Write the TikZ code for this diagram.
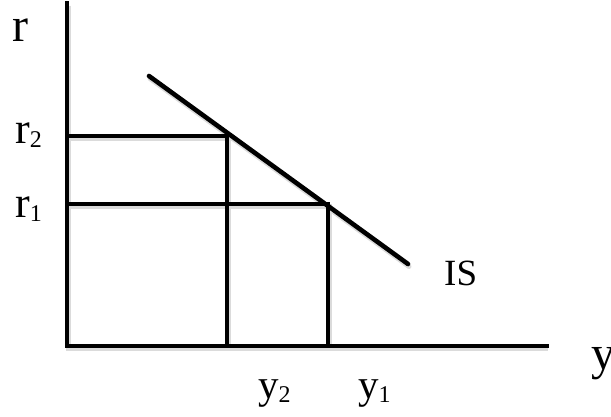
\documentclass[tikz,border=0pt]{standalone}
\usepackage{fontspec}
\setmainfont{Liberation Serif}
\usetikzlibrary{positioning,calc}
\newcommand{\lowidx}[1]{\raisebox{-4pt}{\fontsize{24}{24}\selectfont #1}}
\tikzset{
  axl/.style={line width=4.6pt, line cap=rect, black},
  gridl/.style={line width=4.6pt, black},
  isl/.style={line width=4.6pt, line cap=round, black},
  shd/.style={line width=5pt, black!14, transform canvas={shift={(1pt,-2.5pt)}}},
  lbl/.style={anchor=base west, inner sep=0pt, font=\fontsize{44}{44}\selectfont},
}
\begin{document}
\begin{tikzpicture}[x=1pt,y=-1pt]
\useasboundingbox (0,0) rectangle (611,416);
% axes and points on the IS curve
\coordinate (O) at (67,346);
\coordinate (ytop) at (67,3);
\coordinate (xend) at (547,346);
\coordinate (A) at (227,136);
\coordinate (B) at (328,204);
\coordinate (is0) at (149,76);
\coordinate (is1) at (408,264);
% soft shadows
\draw[shd] (ytop) -- (O) -- (xend);
\draw[shd] (O|-A) -- (A) -- (A|-O);
\draw[shd] (O|-B) -- (B) -- (B|-O);
\draw[shd, line cap=round] (is0) -- (is1);
% lines
\draw[gridl] (O|-A) -- (A) -- (A|-O);
\draw[gridl] (O|-B) -- (B) -- (B|-O);
\draw[isl] (is0) -- (is1);
\draw[axl] (ytop) -- (O) -- (xend);
% labels
\node[lbl, font=\fontsize{48}{48}\selectfont] (rlab) at (12,41) {r};
\node[lbl] (r2lab) at (15,143) {r\lowidx{2}};
\node[lbl] (r1lab) at (15,217) {r\lowidx{1}};
\node[lbl, font=\fontsize{37}{37}\selectfont] (islab) at (444,285) {IS};
\node[lbl, font=\fontsize{41}{41}\selectfont] (y2lab) at (258,398) {y\lowidx{2}};
\node[lbl, font=\fontsize{41}{41}\selectfont] (y1lab) at (358,398) {y\lowidx{1}};
\node[lbl, font=\fontsize{48}{48}\selectfont] (ylab) at (591,369) {y};
\end{tikzpicture}
\end{document}
